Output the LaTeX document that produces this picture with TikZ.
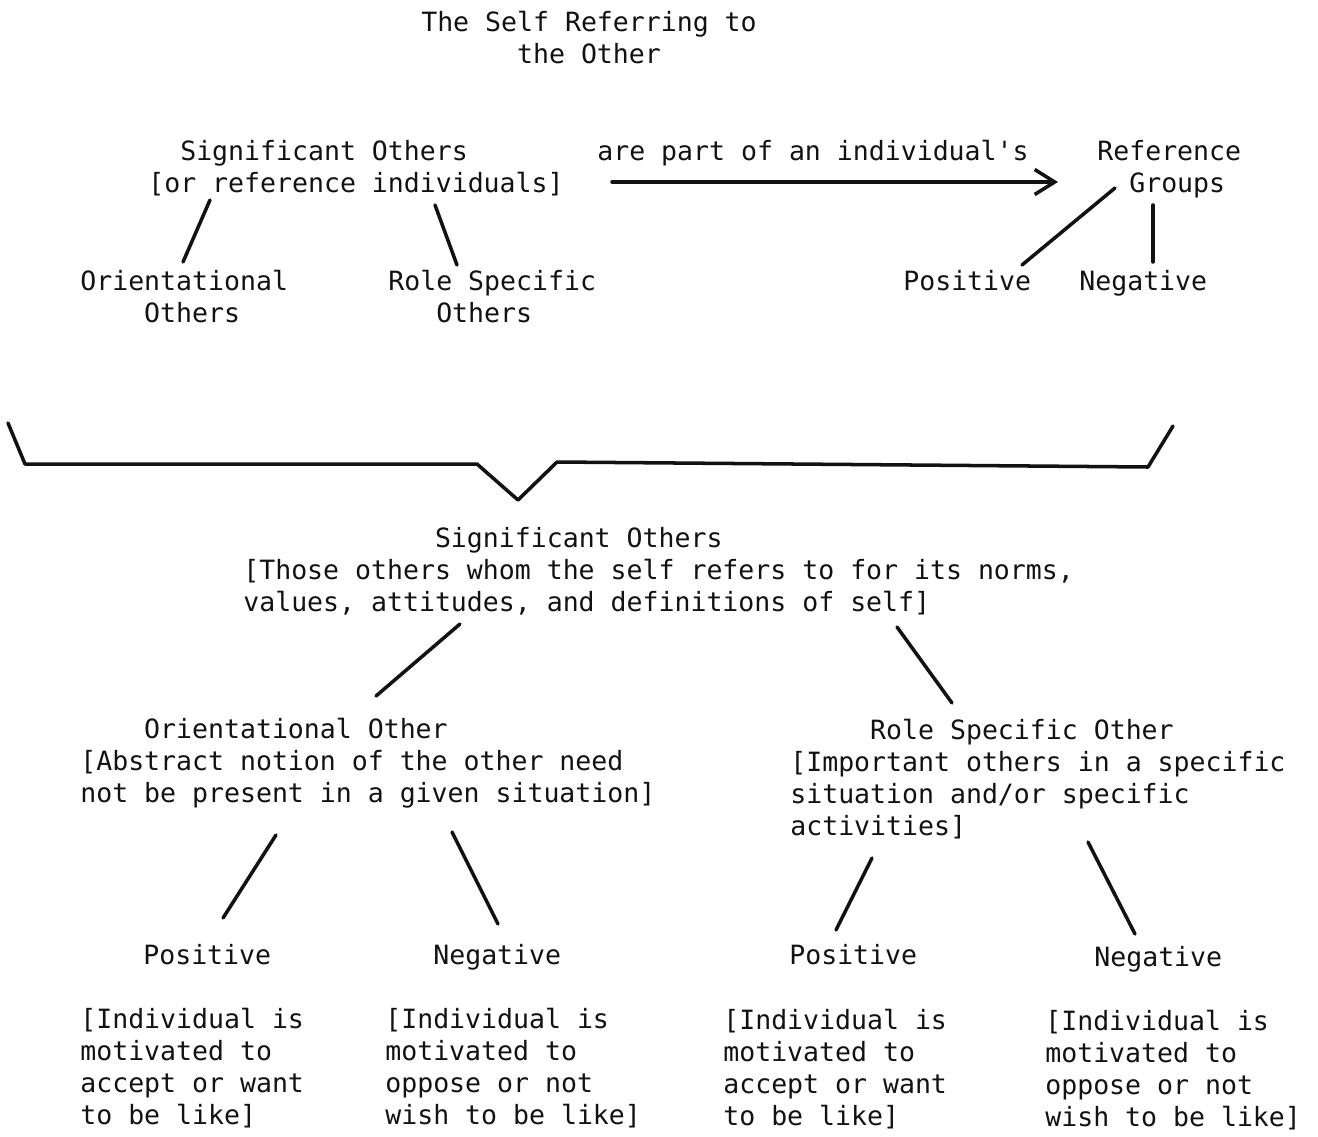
\documentclass[tikz,border=0pt]{standalone}
\usepackage{fontspec}
\usepackage{tikz}
\usetikzlibrary{arrows.meta,positioning,calc}
\newfontfamily\typew{DejaVu Sans Mono}
\definecolor{ink}{RGB}{18,18,18}
\newcommand\ind[1]{\hspace*{#1\fontdimen2\font}}
\tikzset{
  txt/.style={anchor=base west,inner sep=0pt,align=left,font=\typew\fontsize{15.1}{18.2}\selectfont,text=ink},
  link/.style={ink,line width=2pt,line cap=round},
  flow/.style={link,-{Straight Barb[length=4mm,width=5mm,line width=2pt]}},
}

\begin{document}
\begin{tikzpicture}[x=0.02cm,y=-0.02cm]
\useasboundingbox (0,0) rectangle (1318,1136);
% upper half (multi-line nodes sit on the baseline of their last line)
\node[txt,anchor=base,align=center] (title) at (589,63) {The Self Referring to\\the Other};
\node[txt] (sigtop) at (148,192) {\ind{2}Significant Others\\{[}or reference individuals]};
\node[txt] (verb) at (597,160) {are part of an individual's};
\node[txt] (refgrp) at (1097,192) {Reference\\\ind{2}Groups};
\node[txt] (orienttop) at (80,322) {Orientational\\\ind{4}Others};
\node[txt] (roletop) at (388,322) {Role Specific\\\ind{3}Others};
\node[txt] (postop) at (903,290) {Positive};
\node[txt] (negtop) at (1079,290) {Negative};
\draw[link] ($(sigtop.base west)+(62,8)$) -- ($(orienttop.base west)+(103,-60)$);
\draw[link] ($(sigtop.base west)+(287,13)$) -- ($(roletop.base west)+(69,-57)$);
\draw[flow] ($(verb.base west)+(15,22)$) -- ($(refgrp.base west)+(-39,-10)$);
\draw[link] ($(refgrp.base west)+(18,-4)$) -- ($(postop.base west)+(119,-25)$);
\draw[link] ($(refgrp.base west)+(56,13)$) -- ($(negtop.base west)+(74,-28)$);
% brace
\draw[link,line join=round] (8,423) -- (25,464) -- (477,464) -- (518,500) -- (557,462) -- (1148,467) -- (1173,426);
% lower half
\node[txt] (sigmid) at (243,611) {\ind{12}Significant Others\\{[}Those others whom the self refers to for its norms,\\values, attitudes, and definitions of self]};
\node[txt] (orientmid) at (80,802) {\ind{4}Orientational Other\\{[}Abstract notion of the other need\\not be present in a given situation]};
\node[txt] (rolemid) at (790,835) {\ind{5}Role Specific Other\\{[}Important others in a specific\\situation and/or specific\\activities]};
\node[txt] (posA) at (143,964) {Positive};
\node[txt] (negA) at (433,964) {Negative};
\node[txt] (posB) at (789,964) {Positive};
\node[txt] (negB) at (1094,966) {Negative};
\node[txt] (descA) at (80,1124) {{[}Individual is\\motivated to\\accept or want\\to be like]};
\node[txt] (descB) at (385,1124) {{[}Individual is\\motivated to\\oppose or not\\wish to be like]};
\node[txt] (descC) at (723,1125) {{[}Individual is\\motivated to\\accept or want\\to be like]};
\node[txt] (descD) at (1045,1126) {{[}Individual is\\motivated to\\oppose or not\\wish to be like]};
\draw[link] ($(sigmid.base west)+(217,13)$) -- ($(orientmid.base west)+(296,-106)$);
\draw[link] ($(sigmid.base west)+(654,16)$) -- ($(rolemid.base west)+(162,-132)$);
\draw[link] ($(orientmid.base west)+(196,33)$) -- ($(posA.base west)+(80,-46)$);
\draw[link] ($(orientmid.base west)+(372,30)$) -- ($(negA.base west)+(65,-40)$);
\draw[link] ($(rolemid.base west)+(82,23)$) -- ($(posB.base west)+(47,-34)$);
\draw[link] ($(rolemid.base west)+(298,7)$) -- ($(negB.base west)+(41,-32)$);
\end{tikzpicture}
\end{document}
